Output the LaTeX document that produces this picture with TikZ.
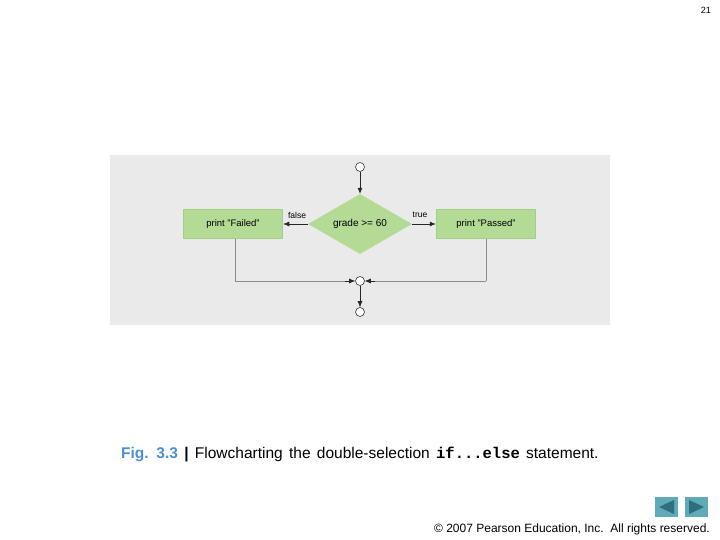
\documentclass[tikz,border=0pt]{standalone}
\usepackage{fontspec}
\setmainfont{Liberation Sans}
\setmonofont{Liberation Mono}
\usetikzlibrary{shapes.geometric,arrows.meta}
\definecolor{panel}{HTML}{EAEAEA}
\definecolor{boxfill}{HTML}{B3DB95}
\definecolor{boxedge}{HTML}{A2D083}
\definecolor{figblue}{HTML}{4A8FD4}
\definecolor{navbg}{HTML}{5FAAB8}
\definecolor{navfg}{HTML}{2E6E7E}
\tikzset{
  actbox/.style={draw=boxedge,line width=1.5pt,fill=boxfill,minimum width=99pt,minimum height=29pt,inner sep=0pt,font=\fontsize{9.5}{11}\selectfont},
  decis/.style={diamond,aspect=1.75,draw=none,fill=boxfill,minimum width=104pt,minimum height=60pt,inner sep=0pt,font=\fontsize{10}{12}\selectfont},
  state/.style={circle,draw=black!80,fill=white,line width=0.6pt,minimum size=9pt,inner sep=0pt},
  flow/.style={draw=black!85,line width=0.6pt,-{Latex[length=6pt,width=5pt]}},
  back/.style={draw=black!45,line width=0.8pt},
  lbl/.style={font=\fontsize{8.5}{10}\selectfont,inner sep=0pt}
}
\begin{document}
\begin{tikzpicture}[x=1pt,y=-1pt]
\useasboundingbox (0,0) rectangle (720,540);
\fill[panel] (110,155) rectangle (610,325);
\node[state] (start) at (360,167) {};
\node[decis] (dec) at (360,224) {grade >= 60};
\node[actbox] (fail) at (233,224) {print "Failed"};
\node[actbox] (pass) at (486,224) {print "Passed"};
\node[state] (merge) at (360,281) {};
\node[state] (stop) at (360,312) {};
\coordinate (fc) at (235,281);
\coordinate (pc) at (486,281);
\draw[flow] (start) -- (dec);
\draw[flow] (dec.west) -- (fail.east |- dec.west);
\draw[flow] (dec.east) -- (pass.west |- dec.east);
\node[lbl] (flbl) at (297,215) {false};
\node[lbl] (tlbl) at (420,215) {true};
\draw[back] (fail.south -| fc) -- (fc);
\draw[back] (pass.south -| pc) -- (pc);
\draw[back] (fc) -- ([xshift=-10pt]merge.west);
\draw[back] (pc) -- ([xshift=10pt]merge.east);
\draw[flow] ([xshift=-10pt]merge.west) -- (merge.west);
\draw[flow] ([xshift=10pt]merge.east) -- (merge.east);
\draw[flow] (merge) -- (stop);
\node[anchor=base west,inner sep=0pt,font=\fontsize{15.5}{18}\selectfont] (cap) at (121,458)
 {\spaceskip=6.3pt{\color{figblue}\bfseries Fig. 3.3} \textbf{|} Flowcharting the double-selection {\ttfamily\bfseries if...else} statement.};
\node[anchor=base east,inner sep=0pt,font=\fontsize{9}{10}\selectfont] (pg) at (711,14) {21};
\node[anchor=base east,inner sep=0pt,font=\fontsize{12}{14}\selectfont] (copy) at (710,532) {© 2007 Pearson Education, Inc.\ \ All rights reserved.};
\fill[navbg] (655,497) rectangle (678,517);
\fill[navbg] (685,497) rectangle (708,517);
\fill[navfg] (674,500) -- (674,514) -- (659,507) -- cycle;
\fill[navfg] (689,500) -- (689,514) -- (704,507) -- cycle;
\end{tikzpicture}
\end{document}
